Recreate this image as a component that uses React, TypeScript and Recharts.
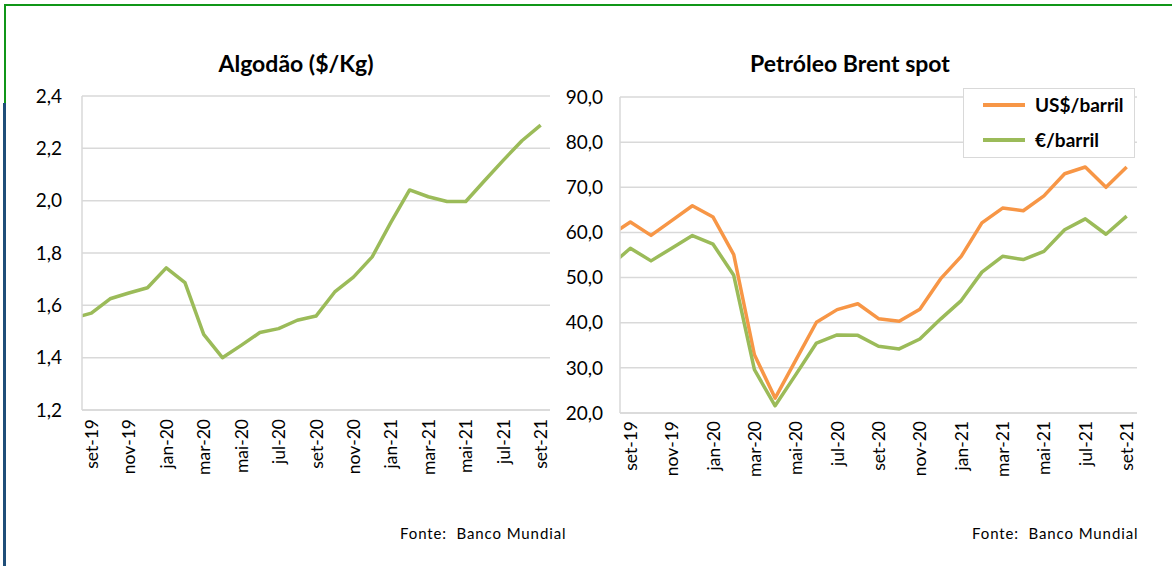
import React from 'react'
import { LineChart, Line, XAxis, YAxis, CartesianGrid } from 'recharts'

// ago-19 sits just left of the plot area and gets clipped, like the Excel original
const months = [
  'ago-19', 'set-19', 'out-19', 'nov-19', 'dez-19', 'jan-20', 'fev-20', 'mar-20', 'abr-20',
  'mai-20', 'jun-20', 'jul-20', 'ago-20', 'set-20', 'out-20', 'nov-20', 'dez-20', 'jan-21',
  'fev-21', 'mar-21', 'abr-21', 'mai-21', 'jun-21', 'jul-21', 'ago-21', 'set-21',
]
const algodao = [
  1.55, 1.57, 1.625, 1.647, 1.667, 1.743, 1.687, 1.489, 1.4, 1.447, 1.496, 1.511, 1.543,
  1.559, 1.651, 1.708, 1.785, 1.917, 2.041, 2.015, 1.997, 1.997, 2.076, 2.154, 2.229, 2.289,
]
const brentUsd = [
  59.3, 62.3, 59.35, 62.6, 65.9, 63.4, 55.1, 32.9, 23.3, 31.7, 40.1, 42.9, 44.2,
  40.9, 40.3, 43.0, 49.7, 54.7, 62.1, 65.4, 64.8, 68.1, 73.0, 74.5, 70.0, 74.5,
]
const brentEur = [
  52.5, 56.5, 53.7, 56.5, 59.3, 57.4, 50.5, 29.6, 21.6, 28.5, 35.5, 37.3, 37.2,
  34.8, 34.2, 36.4, 40.8, 44.9, 51.2, 54.7, 54.0, 55.8, 60.6, 63.0, 59.6, 63.6,
]
const tickLabels = [
  'set-19', 'nov-19', 'jan-20', 'mar-20', 'mai-20', 'jul-20', 'set-20',
  'nov-20', 'jan-21', 'mar-21', 'mai-21', 'jul-21', 'set-21',
]
const algodaoTicks = [1.2, 1.4, 1.6, 1.8, 2.0, 2.2, 2.4]
const brentTicks = [20, 30, 40, 50, 60, 70, 80, 90]
const seriesNames = ['US$/barril', '€/barril']

const FONT = 'Lato, "Open Sans", sans-serif'
const ORANGE = '#F79646'
const GREEN = '#9BBB59'
const GRID = '#D9D9D9'

const data = months.map((m, k) => ({
  i: k - 1,
  m,
  algodao: algodao[k],
  usd: brentUsd[k],
  eur: brentEur[k],
}))
const xTicks = tickLabels.map(l => months.indexOf(l) - 1)
const monthOf = (v: number) => months[v + 1]
const comma = (v: number) => v.toFixed(1).replace('.', ',')

const XTick = (props: any) => {
  const { x, y, payload } = props
  return (
    <text
      x={x}
      y={y}
      transform={`rotate(-90 ${x} ${y})`}
      textAnchor="end"
      dominantBaseline="central"
      fontSize={17.5}
      fontFamily={FONT}
      fill="#000"
    >
      {monthOf(payload.value)}
    </text>
  )
}

const titleStyle: React.CSSProperties = {
  position: 'absolute',
  top: 48,
  fontFamily: FONT,
  fontWeight: 700,
  fontSize: 23,
  color: '#000',
  textAlign: 'center',
  width: 300,
  lineHeight: '30px',
}
const sourceStyle: React.CSSProperties = {
  position: 'absolute',
  top: 524,
  fontFamily: FONT,
  fontSize: 15,
  letterSpacing: 0.9,
  color: '#000',
  whiteSpace: 'pre',
}

export default function App() {
  return (
    <div style={{ position: 'absolute', left: 0, top: 0, width: 1172, height: 566, background: '#fff', overflow: 'hidden' }}>
      {/* frame */}
      <div style={{ position: 'absolute', left: 4, top: 4, width: 1168, height: 2, background: '#109618' }} />
      <div style={{ position: 'absolute', left: 4, top: 4, width: 2, height: 99, background: '#109618' }} />
      <div style={{ position: 'absolute', left: 3, top: 103, width: 3, height: 463, background: '#1F4E79' }} />

      <div style={{ ...titleStyle, left: 146 }}>Algodão ($/Kg)</div>
      <div style={{ ...titleStyle, left: 700 }}>Petróleo Brent spot</div>

      <div style={{ position: 'absolute', left: 0, top: 0 }}>
        <LineChart width={555} height={566} data={data} margin={{ top: 96, right: 5, bottom: 0, left: 0 }}>
          <CartesianGrid vertical={false} stroke={GRID} strokeWidth={1.5} />
          <XAxis
            dataKey="i"
            type="number"
            domain={[-0.5, 24.5]}
            allowDataOverflow
            ticks={xTicks}
            interval={0}
            tick={<XTick />}
            tickLine={false}
            tickSize={0}
            tickMargin={9}
            axisLine={{ stroke: GRID, strokeWidth: 1.5 }}
            height={156}
          />
          <YAxis
            type="number"
            domain={[1.2, 2.4]}
            ticks={algodaoTicks}
            tickFormatter={comma}
            width={82}
            tickLine={false}
            tickSize={0}
            tickMargin={20}
            axisLine={{ stroke: GRID, strokeWidth: 1.5 }}
            tick={{ fill: '#000', fontSize: 19, fontFamily: FONT }}
          />
          <Line
            dataKey="algodao"
            stroke={GREEN}
            strokeWidth={3.5}
            dot={false}
            strokeLinejoin="round"
            isAnimationActive={false}
          />
        </LineChart>
      </div>

      <div style={{ position: 'absolute', left: 555, top: 0 }}>
        <LineChart width={617} height={566} data={data} margin={{ top: 97, right: 35, bottom: 0, left: 0 }}>
          <CartesianGrid vertical={false} stroke={GRID} strokeWidth={1.5} />
          <XAxis
            dataKey="i"
            type="number"
            domain={[-0.5, 24.5]}
            allowDataOverflow
            ticks={xTicks}
            interval={0}
            tick={<XTick />}
            tickLine={false}
            tickSize={0}
            tickMargin={8}
            axisLine={{ stroke: GRID, strokeWidth: 1.5 }}
            height={153}
          />
          <YAxis
            type="number"
            domain={[20, 90]}
            ticks={brentTicks}
            tickFormatter={comma}
            width={65}
            tickLine={false}
            tickSize={0}
            tickMargin={17}
            axisLine={{ stroke: GRID, strokeWidth: 1.5 }}
            tick={{ fill: '#000', fontSize: 19, fontFamily: FONT }}
          />
          <Line
            dataKey="usd"
            name={seriesNames[0]}
            stroke={ORANGE}
            strokeWidth={3.5}
            dot={false}
            strokeLinejoin="round"
            isAnimationActive={false}
          />
          <Line
            dataKey="eur"
            name={seriesNames[1]}
            stroke={GREEN}
            strokeWidth={3.5}
            dot={false}
            strokeLinejoin="round"
            isAnimationActive={false}
          />
        </LineChart>
      </div>

      {/* legend box */}
      <div
        style={{
          position: 'absolute',
          left: 963,
          top: 88,
          width: 170,
          height: 68,
          background: '#fff',
          border: '1px solid #D9D9D9',
          fontFamily: FONT,
          fontWeight: 700,
          fontSize: 19,
          color: '#000',
        }}
      >
        {[
          { name: seriesNames[0], color: ORANGE, top: 16 },
          { name: seriesNames[1], color: GREEN, top: 51 },
        ].map(e => (
          <div key={e.name}>
            <div style={{ position: 'absolute', left: 19, top: e.top - 2, width: 42, height: 4, background: e.color }} />
            <div style={{ position: 'absolute', left: 71, top: e.top - 13, lineHeight: '26px' }}>{e.name}</div>
          </div>
        ))}
      </div>

      <div style={{ ...sourceStyle, left: 400 }}>{'Fonte:  Banco Mundial'}</div>
      <div style={{ ...sourceStyle, left: 972 }}>{'Fonte:  Banco Mundial'}</div>
    </div>
  )
}
